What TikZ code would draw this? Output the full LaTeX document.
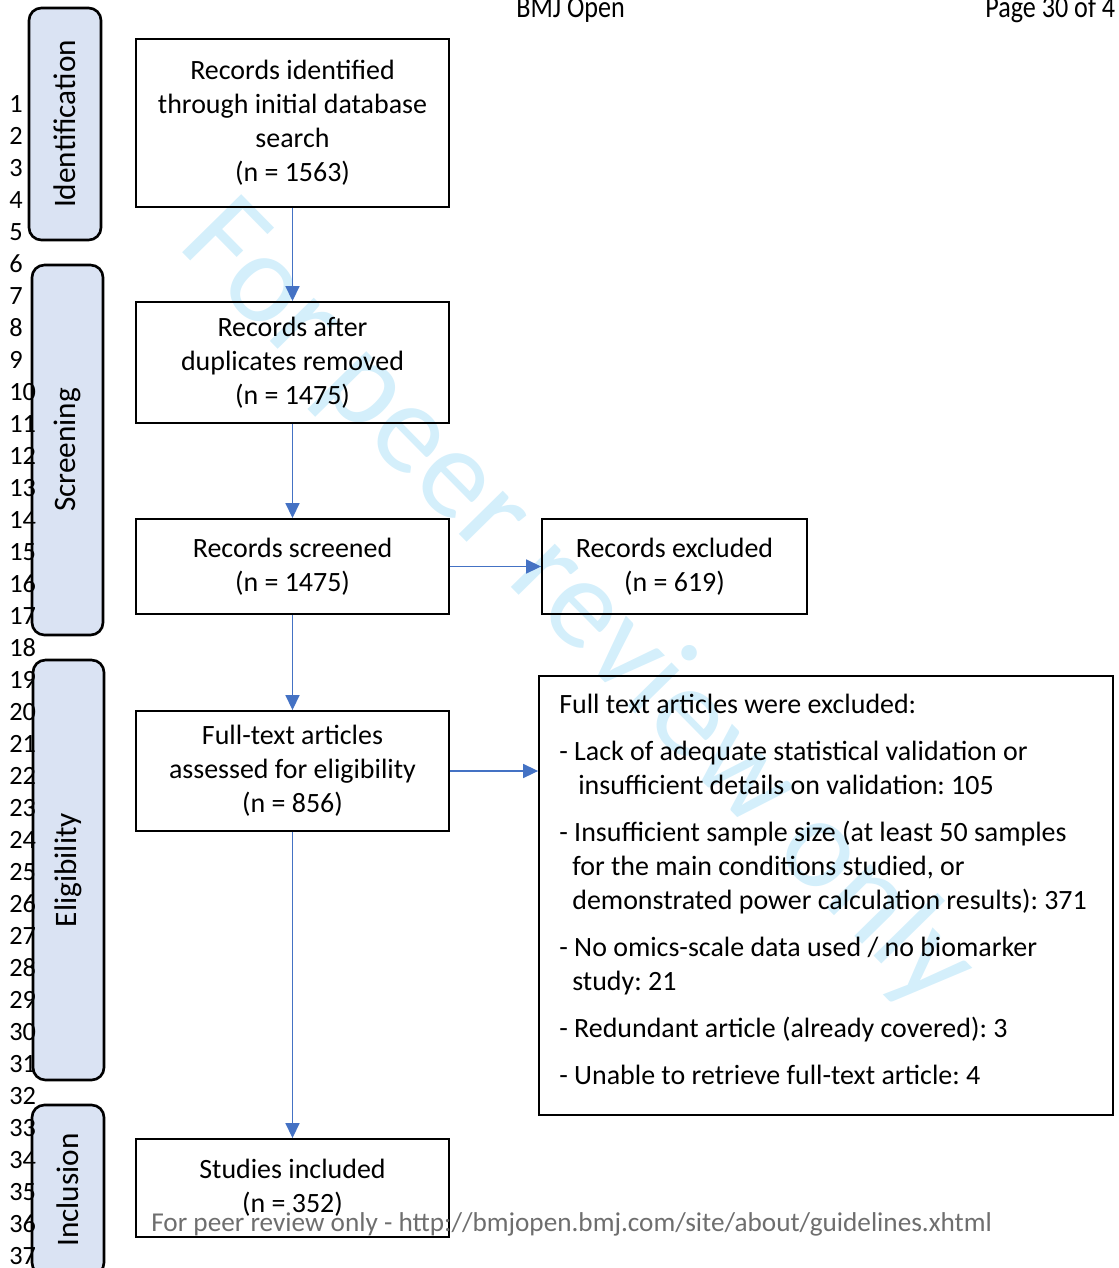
\documentclass[tikz,border=0pt]{standalone}
\usepackage{fontspec}
\setmainfont{Carlito}
\newfontfamily\headfont[FakeStretch=0.85]{Carlito}
\usepackage{xcolor}
\usepackage{tikz}
\usetikzlibrary{arrows.meta}
\definecolor{arrowblue}{RGB}{68,114,196}
\definecolor{stagefill}{RGB}{218,227,243}
\definecolor{wmark}{RGB}{212,239,251}
\definecolor{footgray}{RGB}{110,110,110}
\frenchspacing

\begin{document}
\begin{tikzpicture}[
			     x=0.02cm, y=-0.02cm,
			     >={Triangle[length=8.5pt,width=8pt]},
			     box/.style={draw=black, line width=1.1pt, minimum width=6.26cm, align=center, inner sep=0pt, font=\fontsize{15.9}{19.35}\selectfont},
			     stage/.style={draw=black, line width=1.5pt, fill=stagefill, rounded corners=7pt, rotate=90, inner sep=0pt, font=\fontsize{17.8}{20}\selectfont},
			     lineno/.style={anchor=base west, inner sep=0pt, font=\fontsize{15}{18}\selectfont},
			     head/.style={anchor=base west, inner sep=0pt, font=\headfont\fontsize{17.5}{20}\selectfont},
			     normal line/.style={->, draw=arrowblue, line width=0.7pt}
			     ]
\useasboundingbox (0,0) rectangle (1119,1268);
\clip (0,0) rectangle (1119,1268);
% watermark
\node[anchor=base west, rotate=-45.5, inner sep=0pt, text=wmark, font=\fontsize{73.5}{80}\selectfont] (wm) at (176,246) {For peer review only};
% header
\node[head] (journal) at (516,17) {BMJ Open};
\node[head] (page) at (985,17) {Page 30 of 4};
% stages
\node[stage, minimum width=4.64cm, minimum height=1.44cm] (ident) at (65,124) {Identification};
\node[stage, minimum width=7.4cm, minimum height=1.42cm] (screen) at (67.5,450) {Screening};
\node[stage, minimum width=8.4cm, minimum height=1.42cm] (elig) at (68.5,870) {Eligibility};
\node[stage, minimum width=3.4cm, minimum height=1.44cm] (incl) at (68,1190) {Inclusion};
\foreach \n in {1,...,37}
  \node[lineno] (ln\n) at (9,{112.7+32*(\n-1)}) {\n};
% boxes
\node[box, minimum height=3.36cm] (identified) at (292.5,123) {Records identified\\through initial database\\search\\(n = 1563)};
\node[box, minimum height=2.42cm] (dedup) at (292.5,362.5) {Records after\\duplicates removed\\(n = 1475)};
\node[box, minimum height=1.9cm] (screened) at (292.5,566.5) {Records screened\\(n = 1475)};
\node[box, minimum width=5.3cm, minimum height=1.9cm] (excluded) at (674.5,566.5) {Records excluded\\(n = 619)};
\node[box, minimum height=2.4cm] (fulltext) at (292.5,771) {Full-text articles\\assessed for eligibility\\(n = 856)};
\node[box, minimum width=11.48cm, minimum height=8.78cm] (ftexcl) at (826,895.5) {};
\node[anchor=north west, align=left, inner sep=0pt, font=\fontsize{15.9}{19.35}\selectfont] (ftlist) at (559,694) {%
Full text articles were excluded:\\[7.4pt]
- Lack of adequate statistical validation or\\
\hspace*{10.8pt}insufficient details on validation: 105\\[7.4pt]
- Insufficient sample size (at least 50 samples\\
\hspace*{7.4pt}for the main conditions studied, or\\
\hspace*{7.4pt}demonstrated power calculation results): 371\\[7.4pt]
- No omics-scale data used / no biomarker\\
\hspace*{7.4pt}study: 21\\[7.4pt]
- Redundant article (already covered): 3\\[7.4pt]
- Unable to retrieve full-text article: 4};
\node[box, minimum height=1.96cm] (included) at (292.5,1188) {Studies included\\(n = 352)};
% footer
\node[anchor=base west, inner sep=0pt, text=footgray, font=\fontsize{15.5}{18}\selectfont] (foot) at (151,1231) {For peer review only - http://bmjopen.bmj.com/site/about/guidelines.xhtml};
% arrows
\path (identified) edge[normal line] (dedup);
\path (dedup) edge[normal line] (screened);
\path (screened) edge[normal line] (excluded);
\path (screened) edge[normal line] (fulltext);
\path (fulltext.east) edge[normal line] (fulltext.east -| ftexcl.west);
\path (fulltext) edge[normal line] (included);
\end{tikzpicture}
\end{document}
